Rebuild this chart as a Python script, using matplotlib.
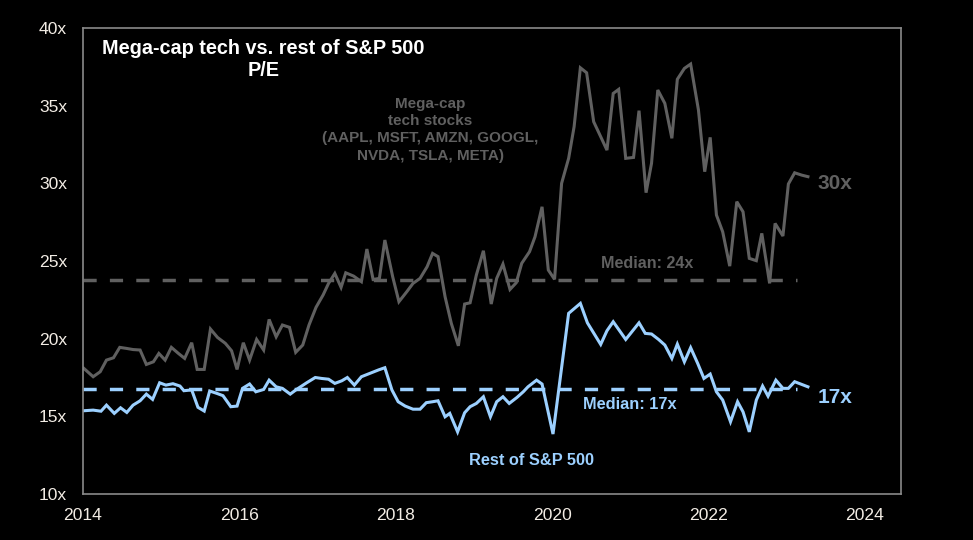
import matplotlib
matplotlib.use("Agg")
import matplotlib.pyplot as plt

# P/E data (decimal year, multiple)
tech_t = [2014.01, 2014.13, 2014.22, 2014.30, 2014.39, 2014.47, 2014.56, 2014.64, 2014.73, 2014.81,
          2014.90, 2014.97, 2015.05, 2015.13, 2015.22, 2015.30, 2015.39, 2015.46, 2015.55, 2015.63,
          2015.72, 2015.82, 2015.90, 2015.97, 2016.05, 2016.13, 2016.22, 2016.31, 2016.38, 2016.47,
          2016.55, 2016.64, 2016.72, 2016.81, 2016.89, 2016.98, 2017.07, 2017.14, 2017.22, 2017.30,
          2017.36, 2017.46, 2017.56, 2017.63, 2017.71, 2017.79, 2017.86, 2017.96, 2018.04, 2018.14,
          2018.22, 2018.31, 2018.40, 2018.47, 2018.54, 2018.63, 2018.71, 2018.80, 2018.88, 2018.95,
          2019.03, 2019.12, 2019.22, 2019.29, 2019.37, 2019.46, 2019.54, 2019.61, 2019.71, 2019.78,
          2019.87, 2019.95, 2020.03, 2020.12, 2020.21, 2020.28, 2020.36, 2020.44, 2020.53, 2020.61,
          2020.70, 2020.78, 2020.85, 2020.94, 2021.04, 2021.11, 2021.20, 2021.27, 2021.35, 2021.44,
          2021.53, 2021.60, 2021.69, 2021.77, 2021.87, 2021.95, 2022.02, 2022.10, 2022.18, 2022.27,
          2022.36, 2022.44, 2022.52, 2022.61, 2022.68, 2022.78, 2022.85, 2022.95, 2023.02, 2023.10,
          2023.19, 2023.27]
tech_pe = [18.09, 17.55, 17.87, 18.62, 18.77, 19.44, 19.37, 19.30, 19.27, 18.34,
           18.51, 19.05, 18.62, 19.44, 19.05, 18.73, 19.74, 18.02, 18.02, 20.62,
           20.08, 19.70, 19.22, 18.02, 19.74, 18.62, 19.95, 19.27, 21.24, 20.12,
           20.88, 20.73, 19.12, 19.59, 20.88, 22.02, 22.81, 23.56, 24.20, 23.30,
           24.24, 24.03, 23.67, 25.77, 23.81, 23.88, 26.35, 23.99, 22.38, 23.02,
           23.56, 23.88, 24.63, 25.49, 25.28, 22.70, 20.98, 19.54, 22.23, 22.31,
           24.10, 25.66, 22.23, 23.88, 24.80, 23.17, 23.60, 24.85, 25.60, 26.56,
           28.49, 24.42, 23.82, 30.00, 31.61, 33.65, 37.44, 37.12, 33.97, 33.11,
           32.14, 35.79, 36.05, 31.61, 31.67, 34.68, 29.40, 31.29, 36.01, 35.15,
           32.90, 36.70, 37.40, 37.68, 34.72, 30.75, 32.96, 27.96, 26.88, 24.67,
           28.82, 28.17, 25.17, 25.02, 26.78, 23.56, 27.42, 26.61, 29.96, 30.68,
           30.53, 30.43]

rest_t = [2014.01, 2014.13, 2014.23, 2014.30, 2014.40, 2014.48, 2014.56, 2014.64, 2014.73, 2014.81,
          2014.89, 2014.98, 2015.06, 2015.15, 2015.24, 2015.29, 2015.39, 2015.47, 2015.55, 2015.62,
          2015.71, 2015.79, 2015.89, 2015.97, 2016.04, 2016.13, 2016.21, 2016.31, 2016.38, 2016.47,
          2016.55, 2016.65, 2016.73, 2016.86, 2016.97, 2017.05, 2017.14, 2017.22, 2017.31, 2017.38,
          2017.47, 2017.56, 2017.69, 2017.78, 2017.86, 2017.95, 2018.03, 2018.12, 2018.22, 2018.31,
          2018.39, 2018.47, 2018.54, 2018.63, 2018.69, 2018.79, 2018.88, 2018.95, 2019.03, 2019.12,
          2019.21, 2019.29, 2019.37, 2019.45, 2019.55, 2019.63, 2019.69, 2019.80, 2019.87, 2020.01,
          2020.21, 2020.36, 2020.45, 2020.62, 2020.70, 2020.78, 2020.94, 2021.11, 2021.19, 2021.27,
          2021.36, 2021.44, 2021.53, 2021.60, 2021.69, 2021.77, 2021.86, 2021.94, 2022.02, 2022.10,
          2022.18, 2022.28, 2022.37, 2022.44, 2022.52, 2022.61, 2022.69, 2022.76, 2022.86, 2022.95,
          2023.02, 2023.10, 2023.27]
rest_pe = [15.36, 15.40, 15.33, 15.72, 15.19, 15.55, 15.25, 15.72, 16.00, 16.43,
           16.09, 17.16, 17.01, 17.10, 16.95, 16.65, 16.70, 15.58, 15.34, 16.63,
           16.48, 16.33, 15.62, 15.66, 16.80, 17.08, 16.58, 16.73, 17.33, 16.90,
           16.80, 16.43, 16.73, 17.16, 17.50, 17.44, 17.39, 17.12, 17.29, 17.50,
           17.01, 17.55, 17.81, 17.99, 18.13, 16.70, 15.94, 15.66, 15.46, 15.46,
           15.88, 15.94, 16.00, 14.97, 15.19, 14.00, 15.23, 15.62, 15.83, 16.26,
           14.97, 15.94, 16.26, 15.83, 16.22, 16.58, 16.90, 17.33, 17.08, 13.86,
           21.63, 22.27, 21.02, 19.63, 20.51, 21.09, 19.95, 21.02, 20.34, 20.30,
           19.95, 19.59, 18.73, 19.65, 18.51, 19.42, 18.41, 17.44, 17.72, 16.58,
           16.05, 14.65, 15.94, 15.29, 14.00, 16.05, 16.95, 16.30, 17.33, 16.80,
           16.80, 17.23, 16.90]

tech_median = 23.8
rest_median = 16.75
median_span = [2014.0, 2023.13]

x_ticks = [2014, 2016, 2018, 2020, 2022, 2024]
y_ticks = [10, 15, 20, 25, 30, 35, 40]

gray = "#606060"
blue = "#9cd0ff"

plt.rcParams["font.family"] = ["Liberation Sans", "DejaVu Sans"]

fig = plt.figure(figsize=(9.73, 5.4), dpi=100, facecolor="black")
ax = fig.add_axes([0.0853, 0.0852, 0.8407, 0.8629], facecolor="black")

# Linien
ax.plot(tech_t, tech_pe, color=gray, lw=2.2, solid_joinstyle="miter")
ax.plot(rest_t, rest_pe, color=blue, lw=2.2, solid_joinstyle="miter")
ax.plot(median_span, [tech_median] * 2, color=gray, lw=2.5, dashes=(3.8, 3.8))
ax.plot(median_span, [rest_median] * 2, color=blue, lw=2.5, dashes=(3.8, 3.8))

# Achsen
ax.set_xlim(2014, 2024.46)
ax.set_ylim(10, 40)
ax.set_xticks(x_ticks)
ax.set_xticklabels([str(t) for t in x_ticks])
ax.set_yticks(y_ticks)
ax.set_yticklabels([f"{t}x" for t in y_ticks])
ax.tick_params(length=0, labelsize=12.6, colors="#f2ece4")
ax.tick_params(axis="y", pad=11.5)
ax.tick_params(axis="x", pad=10)
for s in ax.spines.values():
    s.set_color("#8a8a8a")
    s.set_linewidth(1.2)

# Beschriftungen
ax.text(2016.31, 37.97, "Mega-cap tech vs. rest of S&P 500\nP/E", color="white",
        fontsize=14.3, fontweight="bold", ha="center", va="center", linespacing=1.2)
ax.text(2018.44, 33.46, "Mega-cap\ntech stocks\n(AAPL, MSFT, AMZN, GOOGL,\nNVDA, TSLA, META)",
        color=gray, fontsize=11, fontweight="bold", ha="center", va="center", linespacing=1.3)
ax.text(2021.21, 24.83, "Median: 24x", color=gray, fontsize=11.6, fontweight="bold",
        ha="center", va="center")
ax.text(2023.39, 29.96, "30x", color=gray, fontsize=15, fontweight="bold", ha="left", va="center")
ax.text(2020.99, 15.74, "Median: 17x", color=blue, fontsize=11.8, fontweight="bold",
        ha="center", va="center")
ax.text(2023.39, 16.24, "17x", color=blue, fontsize=15, fontweight="bold", ha="left", va="center")
ax.text(2019.73, 12.18, "Rest of S&P 500", color=blue, fontsize=11.8, fontweight="bold",
        ha="center", va="center")

fig.savefig("out.png", dpi=100, facecolor="black")
